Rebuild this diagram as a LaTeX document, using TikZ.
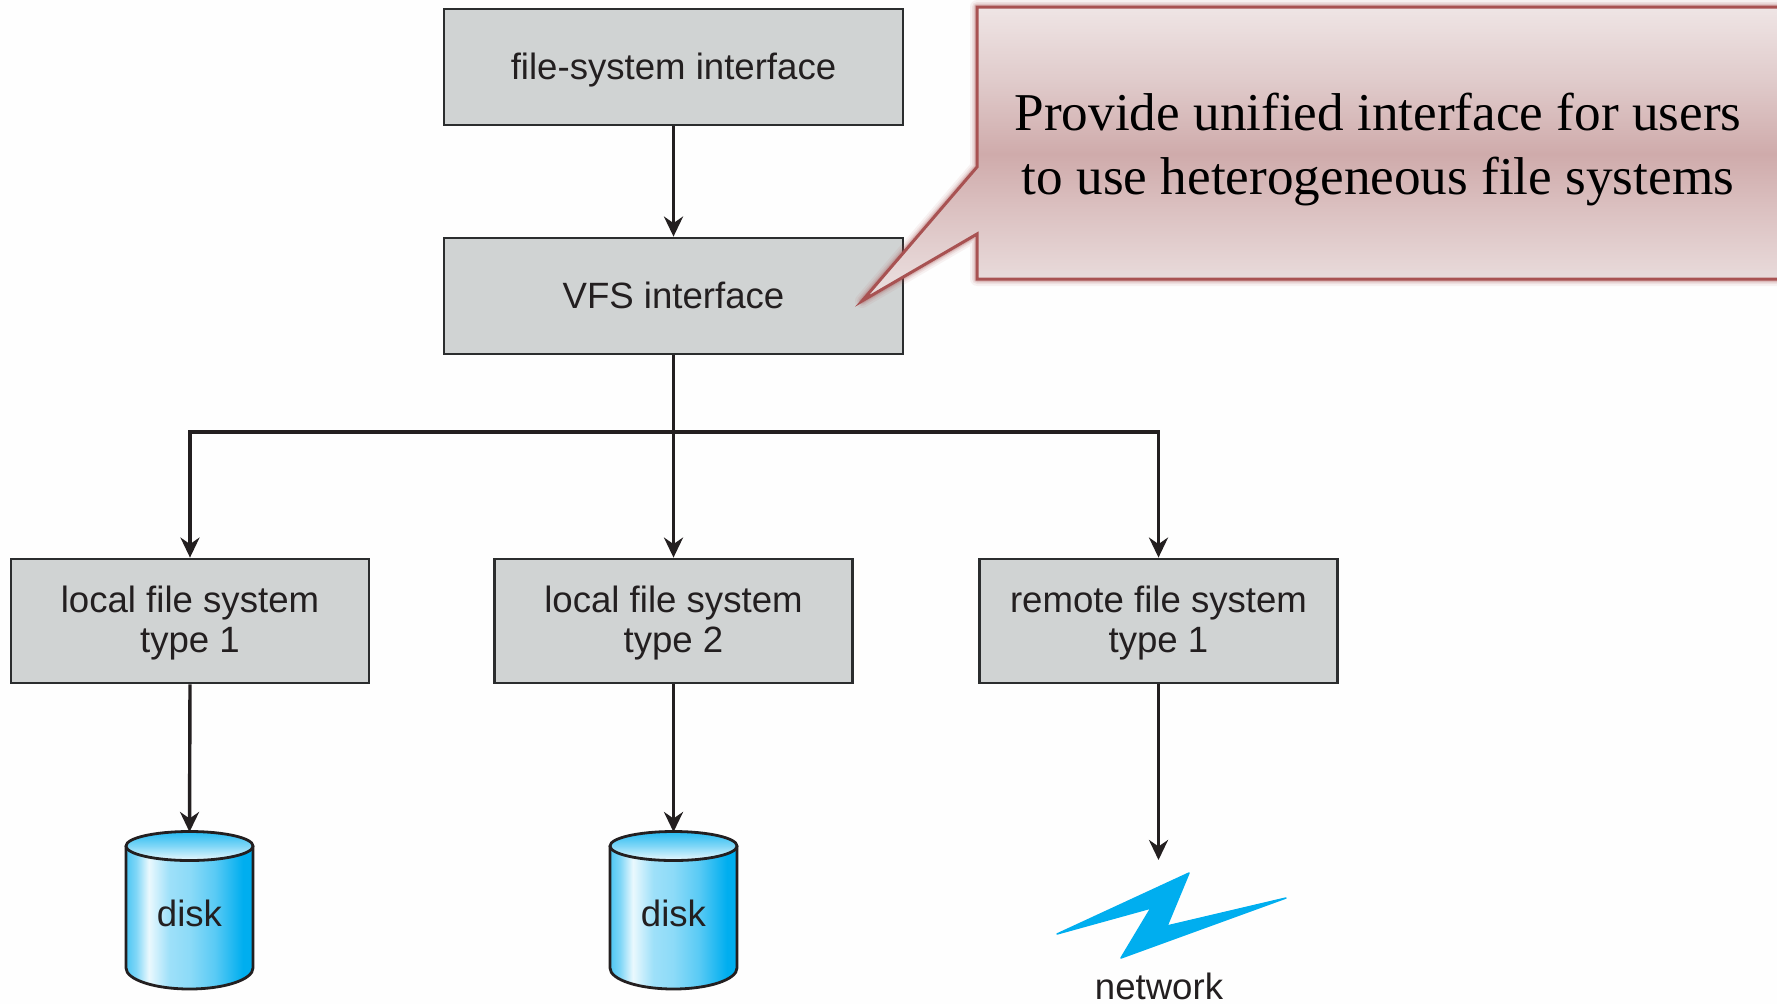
\documentclass[tikz,border=0pt]{standalone}
\usepackage{fontspec}
\setmainfont{Liberation Sans}
\newfontfamily\calloutfont{Liberation Serif}
\usetikzlibrary{arrows.meta}
\definecolor{boxfill}{HTML}{D0D3D3}
\definecolor{boxline}{HTML}{2B2D2E}
\definecolor{inkc}{HTML}{231F20}
\definecolor{netblue}{HTML}{00AEEF}
\definecolor{calloutline}{HTML}{A85252}
\definecolor{cgA}{HTML}{E8DADA}
\definecolor{cgB}{HTML}{DCC2C2}
\definecolor{cgC}{HTML}{CFABAB}
\definecolor{cgD}{HTML}{E0CBCB}
\definecolor{cgE}{HTML}{EFE5E5}
\pgfdeclarehorizontalshading{cylside}{100bp}{
  color(0bp)=(white!30!netblue);
  color(25bp)=(white!30!netblue);
  color(29bp)=(white!50!netblue);
  color(34bp)=(white!92!netblue);
  color(42bp)=(white!62!netblue);
  color(50bp)=(white!55!netblue);
  color(60bp)=(white!35!netblue);
  color(71bp)=(netblue);
  color(100bp)=(netblue)}
\pgfdeclareverticalshading{cyltop}{100bp}{
  color(0bp)=(white!92!netblue);
  color(25bp)=(white!92!netblue);
  color(50bp)=(white!50!netblue);
  color(75bp)=(netblue!85!white);
  color(100bp)=(netblue!85!white)}
\pgfdeclareverticalshading{calloutgrad}{100bp}{
  color(0bp)=(cgA);
  color(29bp)=(cgA);
  color(40bp)=(cgB);
  color(50bp)=(cgC);
  color(62.5bp)=(cgD);
  color(75bp)=(cgE);
  color(100bp)=(cgE)}
\tikzset{
  x=1pt,y=-1pt,
  fsbox/.style={draw=boxline,line width=2.8pt,fill=boxfill,inner sep=0pt,align=center,
    text=inkc,font=\fontsize{36.6}{40}\selectfont},
  oneline/.style={text height=32pt,text depth=7pt},
  wide/.style={minimum width=459pt,minimum height=116pt},
  fstype/.style={minimum width=358pt,minimum height=124pt},
  conn/.style={draw=inkc,line width=3.4pt,-{Stealth[length=20pt,width=19pt]}},
  trunk/.style={draw=inkc,line width=3.4pt},
  diskn/.style={minimum width=127pt,minimum height=157pt,inner sep=0pt,text=inkc,
    font=\fontsize{36.6}{40}\selectfont},
  lbl/.style={text=inkc,font=\fontsize{36.6}{40}\selectfont,inner sep=0pt},
  callouttext/.style={inner sep=0pt,align=center,text=black,
    font=\calloutfont\fontsize{53.2}{64.5}\selectfont},
}
\newcommand{\diskshape}[1]{%
  \begin{scope}[shift={(#1,0)}]
    \path[shading=cylside] (-63.5,846) -- (-63.5,968) arc[start angle=180,end angle=360,x radius=63.5pt,y radius=21pt]
      -- (63.5,846) arc[start angle=0,end angle=180,x radius=63.5pt,y radius=14.5pt] -- cycle;
    \draw[draw=inkc,line width=2.8pt] (-63.5,846) -- (-63.5,968) arc[start angle=180,end angle=360,x radius=63.5pt,y radius=21pt] -- (63.5,846);
    \draw[draw=inkc,line width=2.8pt,shading=cyltop] (0,846) ellipse[x radius=63.5pt,y radius=14.5pt];
  \end{scope}}
\newcommand{\firstline}{\rule{0pt}{31pt}}
\begin{document}
\begin{tikzpicture}
\useasboundingbox (0,0) rectangle (1777,1004);
\fill[white!99.5!black] (0,0) rectangle (1777,1004);

\node[fsbox,wide,oneline] (fsi) at (673.5,67) {file-system interface};
\node[fsbox,wide,oneline] (vfs) at (673.5,296) {VFS interface};
\node[fsbox,fstype] (l1) at (190,621) {\firstline local file system\\type 1};
\node[fsbox,fstype] (l2) at (673.5,621) {\firstline local file system\\type 2};
\node[fsbox,fstype] (r1) at (1158.5,621) {\firstline remote file system\\type 1};

\diskshape{189.5}
\diskshape{673.5}
\node[diskn] (d1) at (189.5,913) {disk};
\coordinate (d1top) at (189.5,832);
\node[diskn] (d2) at (673.5,913) {disk};
\coordinate (d2top) at (673.5,832);

\fill[netblue,draw=netblue,line width=1.5pt,line join=round]
  (1057,934) -- (1189,873) -- (1167,926) -- (1286,898) -- (1121,958) -- (1151,908) -- cycle;
\node[lbl,anchor=base] (net) at (1159,999) {network};
\coordinate (netin) at (1158.5,860);
\coordinate (branch) at (673.5,432);

\draw[conn] (fsi.south) -- (vfs.north);
\draw[trunk] (vfs.south) -- (branch);
\draw[conn] (branch) -- (l2.north);
\draw[conn] (branch) -| (l1.north);
\draw[conn] (branch) -| (r1.north);
\draw[conn] (l1.south) -- (d1top);
\draw[conn] (l2.south) -- (d2top);
\draw[conn] (r1.south) -- (netin);

% callout
\foreach \w/\o in {14/0.07,10/0.10,7/0.14,5/0.18}{
  \draw[calloutline,line width=\w pt,opacity=\o,line join=round]
   (1790,7) -- (977,7) -- (977,167) -- (862,301) -- (977,234) -- (977,279) -- (1790,279);
}
\path[shading=calloutgrad] (1790,7) -- (977,7) -- (977,167) -- (862,301) -- (977,234) -- (977,279) -- (1790,279) -- cycle;
\draw[calloutline,line width=3pt,line join=miter]
   (1790,7) -- (977,7) -- (977,167) -- (862,301) -- (977,234) -- (977,279) -- (1790,279);
\node[callouttext,anchor=base] (c1) at (1378,130) {Provide unified interface for users};
\node[callouttext,anchor=base] (c2) at (1378,194) {to use heterogeneous file systems};
\end{tikzpicture}
\end{document}
